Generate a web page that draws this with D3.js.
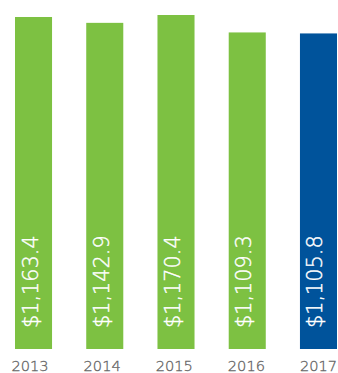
<!DOCTYPE html>
<html>
<head>
<meta charset="utf-8">
<script src="https://cdn.jsdelivr.net/npm/d3@7"></script>
<style>
  html, body { margin: 0; padding: 0; background: #fff; }
  svg { display: block; }
  .year { font-family: "DejaVu Sans", sans-serif; font-weight: 200; font-size: 14.6px; fill: #626262; stroke: #626262; stroke-width: 0.3px; }
  .val { font-family: "DejaVu Sans", sans-serif; font-weight: 200; font-size: 20.8px; fill: #fff; stroke: #fff; stroke-width: 0.4px; }
</style>
</head>
<body>
<script>
// Annual totals, in millions of dollars
const years = ["2013", "2014", "2015", "2016", "2017"];
const values = [1163.4, 1142.9, 1170.4, 1109.3, 1105.8];
const valueLabels = ["$1,163.4", "$1,142.9", "$1,170.4", "$1,109.3", "$1,105.8"];
const barColors = ["#7dc142", "#7dc142", "#7dc142", "#7dc142", "#00539b"];

const W = 338, H = 373;
const baseY = 349;

const svg = d3.select("body").append("svg")
  .attr("width", W).attr("height", H);

const x = d3.scaleBand()
  .domain(years)
  .range([15, 337])
  .paddingInner(0.48)
  .paddingOuter(0);

// Year captions sit on their own evenly spaced scale
const xLabel = d3.scalePoint()
  .domain(years)
  .range([29.5, 318]);

const y = d3.scaleLinear()
  .domain([0, d3.max(values)])
  .range([baseY, 15]);

const data = years.map((yr, i) => ({ yr, v: values[i], label: valueLabels[i], color: barColors[i] }));

svg.selectAll("rect.bar")
  .data(data)
  .join("rect")
  .attr("class", "bar")
  .attr("x", d => x(d.yr))
  .attr("width", x.bandwidth())
  .attr("y", d => y(d.v))
  .attr("height", d => baseY - y(d.v))
  .attr("fill", d => d.color);

// Value labels run bottom-to-top inside each bar
svg.selectAll("text.val")
  .data(data)
  .join("text")
  .attr("class", "val")
  .attr("transform", d => `translate(${x(d.yr) + x.bandwidth() / 2 + 4},${baseY - 21}) rotate(-90)`)
  .attr("text-anchor", "start")
  .text(d => d.label);

// Year axis
const axis = d3.axisBottom(xLabel).tickSize(0).tickPadding(0);
const g = svg.append("g")
  .attr("transform", `translate(0,${baseY})`)
  .call(axis);
g.select(".domain").remove();
g.attr("font-family", null).attr("font-size", null);
g.selectAll("text")
  .attr("class", "year")
  .attr("dy", null)
  .attr("y", 22);
</script>
</body>
</html>
